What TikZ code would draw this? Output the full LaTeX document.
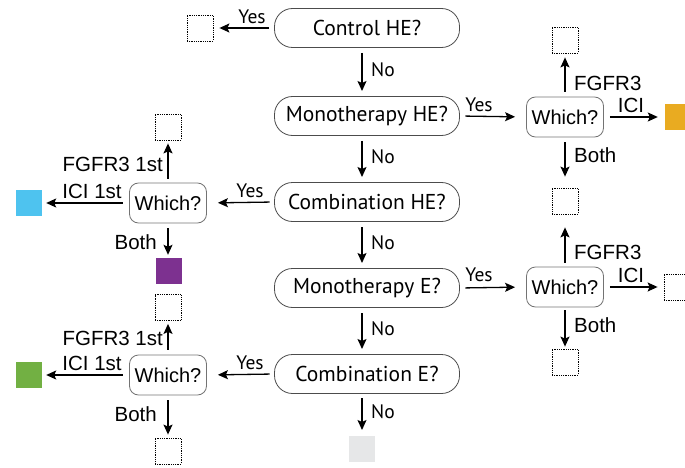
\documentclass[tikz,border=0pt]{standalone}
\usepackage{fontspec}
\setmainfont{Liberation Sans}
\newfontfamily\boxfont{PT Sans}
\usetikzlibrary{arrows.meta}
\definecolor{cOrange}{HTML}{E9AB21}
\definecolor{cBlue}{HTML}{4EC3EF}
\definecolor{cPurple}{HTML}{7D3190}
\definecolor{cGreen}{HTML}{72B043}
\definecolor{cGrey}{HTML}{E6E7E8}
\begin{document}
\begin{tikzpicture}[x=1pt,y=-1pt,
  mainbox/.style={draw=black!70, line width=0.8pt, rounded corners=18pt, minimum width=185pt, minimum height=39pt, inner sep=0pt, font=\boxfont\fontsize{21.5}{24}\selectfont},
  whichbox/.style={draw=black!55, line width=0.8pt, rounded corners=9pt, minimum width=77pt, minimum height=40pt, inner sep=0pt, font=\fontsize{20}{23}\selectfont},
  emptybox/.style={draw, densely dotted, line width=0.8pt, minimum size=26pt, inner sep=0pt},
  fillbox/.style={fill=#1, minimum size=26pt, inner sep=0pt},
  arr/.style={-{Stealth[length=10pt,width=9pt,inset=2pt]}, line width=1.3pt},
  lab/.style={font=\fontsize{20.5}{23}\selectfont, inner sep=0pt},
  yn/.style={font=\boxfont\fontsize{19.5}{22}\selectfont, inner sep=0pt}]
\useasboundingbox (0,0) rectangle (685,468);

% main column
\node[mainbox] (q1) at (367,28) {Control HE?};
\node[mainbox] (q2) at (367,116) {Monotherapy HE?};
\node[mainbox] (q3) at (367,202) {Combination HE?};
\node[mainbox] (q4) at (367,288) {Monotherapy E?};
\node[mainbox] (q5) at (367,374) {Combination E?};
\node[fillbox=cGrey] (end) at (362,449) {};

\coordinate (d1a) at (362,53); \coordinate (d1b) at (362,91);
\coordinate (d2a) at (362,141); \coordinate (d2b) at (362,177);
\coordinate (d3a) at (362,227); \coordinate (d3b) at (362,263);
\coordinate (d4a) at (362,313); \coordinate (d4b) at (362,349);
\coordinate (d5a) at (362,398); \coordinate (d5b) at (362,430);
\draw[arr] (d1a) -- (d1b);
\draw[arr] (d2a) -- (d2b);
\draw[arr] (d3a) -- (d3b);
\draw[arr] (d4a) -- (d4b);
\draw[arr] (d5a) -- (d5b);
\node[yn, anchor=west] at (371,70) {No};
\node[yn, anchor=west] at (371,157) {No};
\node[yn, anchor=west] at (371,243) {No};
\node[yn, anchor=west] at (371,329) {No};
\node[yn, anchor=west] at (371,412) {No};

% control HE yes
\node[emptybox] (c1) at (200,28) {};
\draw[arr, shorten <=5pt, shorten >=6pt] (q1.west) -- (c1.east);
\node[yn] at (252,17) {Yes};

% right top which
\node[whichbox] (w1) at (565,117) {Which?};
\node[emptybox] (r1) at (565,40) {};
\node[fillbox=cOrange] (o1) at (678,117.5) {};
\node[emptybox] (r2) at (565,201) {};
\draw[arr, shorten <=5.5pt, shorten >=11pt] (q2.east) -- (w1.west);
\draw[arr, shorten <=5pt, shorten >=4pt] (w1.north) -- (r1.south);
\draw[arr, shorten <=6pt, shorten >=7pt] (w1.east) -- (w1.east -| o1.west);
\draw[arr, shorten <=5pt, shorten >=11pt] (w1.south) -- (r2.north);
\node[yn] at (479,105) {Yes};
\node[lab, anchor=west] at (574,83) {FGFR3};
\node[lab] at (631,105) {ICI};
\node[lab, anchor=west] at (574,155) {Both};

% right second which
\node[whichbox] (w2) at (565,287) {Which?};
\node[emptybox] (r3) at (677,287) {};
\node[emptybox] (r4) at (565,362) {};
\draw[arr, shorten <=5.5pt, shorten >=11pt] (q4.east) -- (w2.west);
\draw[arr, shorten <=4pt, shorten >=13pt] (w2.north) -- (r2.south);
\draw[arr, shorten <=6pt, shorten >=6pt] (w2.east) -- (r3.west);
\draw[arr, shorten <=3pt, shorten >=2pt] (w2.south) -- (r4.north);
\node[yn] at (479,275) {Yes};
\node[lab, anchor=west] at (574,252) {FGFR3};
\node[lab] at (631,275) {ICI};
\node[lab, anchor=west] at (574,325) {Both};

% left first which
\node[whichbox] (w3) at (168,203) {Which?};
\node[emptybox] (l1) at (168,127) {};
\node[fillbox=cBlue] (b1) at (29,203) {};
\node[fillbox=cPurple] (p1) at (168.5,271) {};
\draw[arr, shorten <=4.5pt, shorten >=11pt] (q3.west) -- (w3.east);
\draw[arr, shorten <=4pt, shorten >=3pt] (w3.north) -- (l1.south);
\draw[arr, shorten <=6.5pt, shorten >=4pt] (w3.west) -- (b1.east);
\draw[arr, shorten <=5pt, shorten >=3pt] (w3.south) -- (w3.south |- p1.north);
\node[yn] at (250,191) {Yes};
\node[lab, anchor=east] at (163,164) {FGFR3 1st};
\node[lab] at (92,191) {ICI 1st};
\node[lab, anchor=east] at (157,242) {Both};

% left second which
\node[whichbox] (w4) at (168,375) {Which?};
\node[emptybox] (l2) at (168,307.5) {};
\node[fillbox=cGreen] (g1) at (29,375) {};
\node[emptybox] (l3) at (168,451) {};
\draw[arr, shorten <=4.5pt, shorten >=11pt] (q5.west) -- (w4.east);
\draw[arr, shorten <=5pt, shorten >=3pt] (w4.north) -- (l2.south);
\draw[arr, shorten <=6.5pt, shorten >=4pt] (w4.west) -- (g1.east);
\draw[arr, shorten <=5pt, shorten >=3pt] (w4.south) -- (l3.north);
\node[yn] at (250,363) {Yes};
\node[lab, anchor=east] at (163,338) {FGFR3 1st};
\node[lab] at (92,363) {ICI 1st};
\node[lab, anchor=east] at (157,414) {Both};
\end{tikzpicture}
\end{document}
